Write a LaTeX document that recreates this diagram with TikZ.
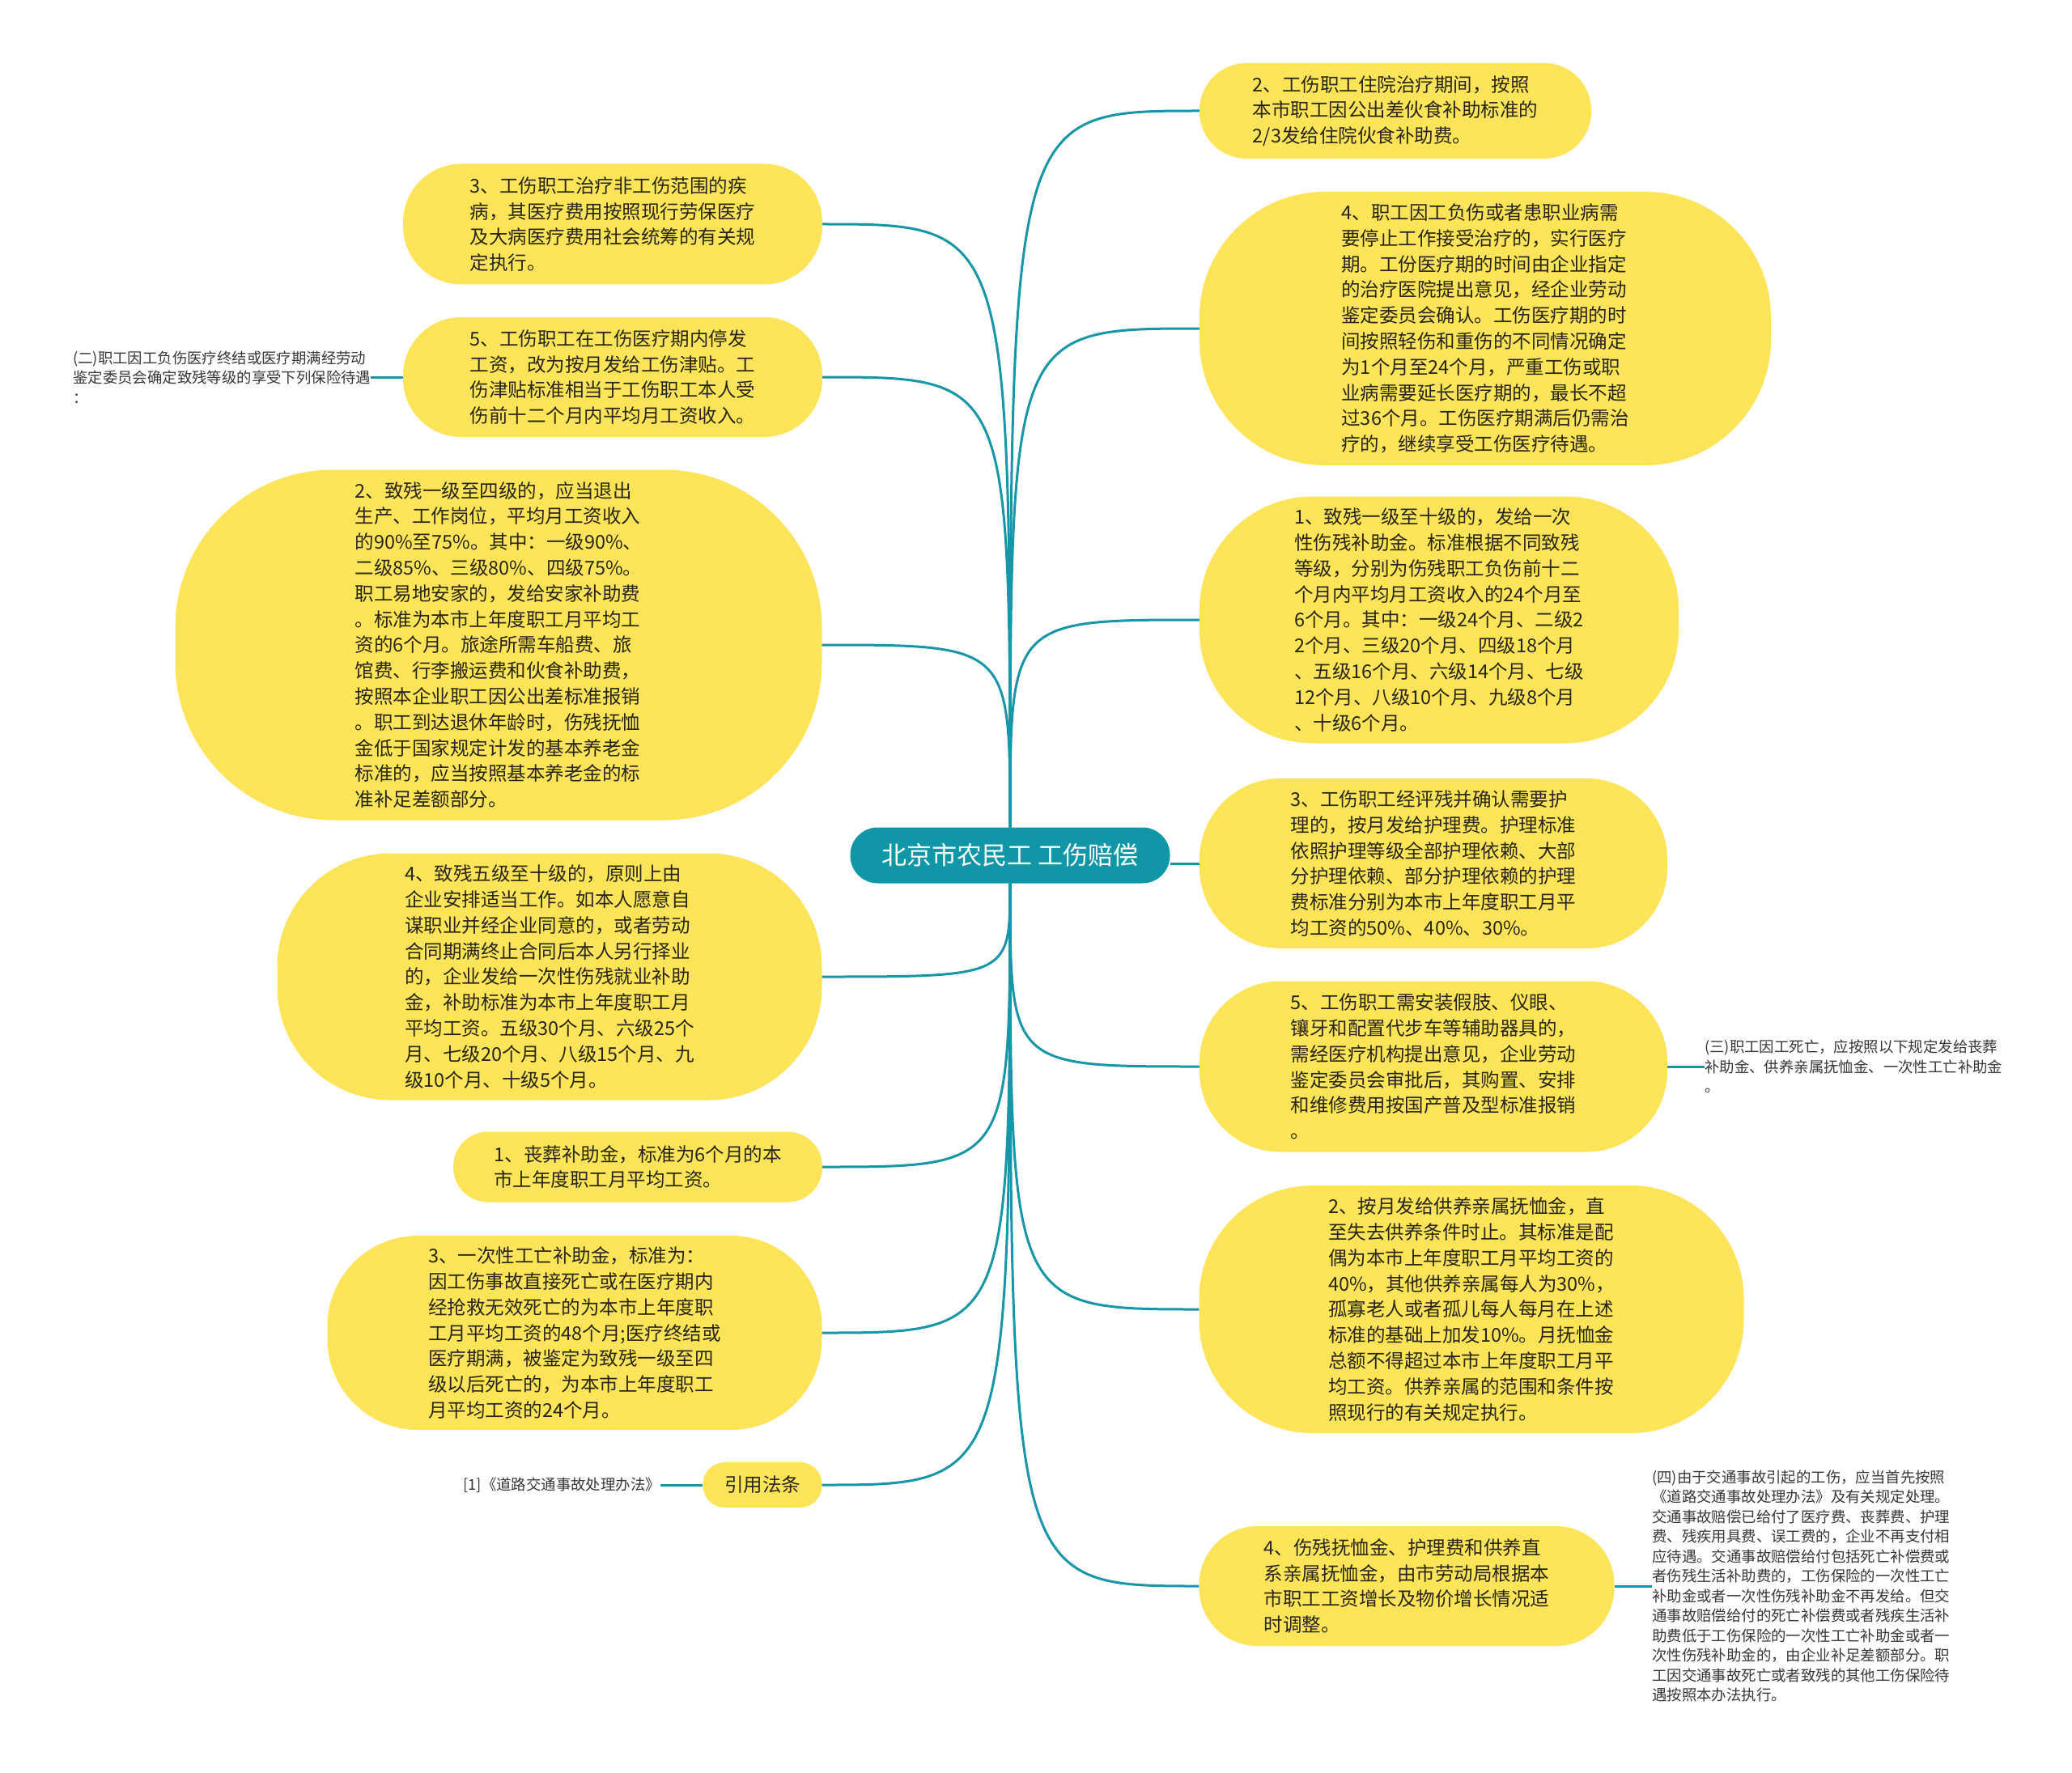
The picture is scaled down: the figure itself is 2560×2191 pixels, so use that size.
\documentclass[tikz,border=0pt]{standalone}
\usepackage{fontspec}
\setmainfont{Noto Sans CJK SC}

\definecolor{leafyellow}{RGB}{253,228,88}
\definecolor{rootteal}{RGB}{16,151,167}
\definecolor{linkteal}{RGB}{22,150,166}
\definecolor{leaftext}{RGB}{40,38,25}
\definecolor{notegray}{RGB}{55,55,55}

\begin{document}
\begin{tikzpicture}[x=1pt, y=-1pt,
    root/.style={fill=rootteal, text=white, rounded corners=34pt, minimum width=395pt, minimum height=69pt, inner sep=0pt, font=\fontsize{31}{36}\selectfont},
    leaf/.style={fill=leafyellow, text=leaftext, align=left, inner sep=0pt, font=\fontsize{23.5}{31.8}\selectfont},
    note/.style={text=notegray, align=left, inner sep=0pt, font=\fontsize{18.4}{24.5}\selectfont},
    link/.style={draw=linkteal, line width=3pt}]

    \fill[white] (0,0) rectangle (2560,2191);

    % centre
    \node[root] (root) at (1248,1057) {北京市农民工 工伤赔偿};

    % right side
    \node[leaf, minimum width=484pt, minimum height=118pt, rounded corners=58pt] (r1) at (1724,137)
        {2、工伤职工住院治疗期间，按照\\本市职工因公出差伙食补助标准的\\2/3发给住院伙食补助费。};
    \node[leaf, minimum width=706pt, minimum height=338pt, rounded corners=155pt] (r2) at (1835,406)
        {4、职工因工负伤或者患职业病需\\要停止工作接受治疗的，实行医疗\\期。工份医疗期的时间由企业指定\\的治疗医院提出意见，经企业劳动\\鉴定委员会确认。工伤医疗期的时\\间按照轻伤和重伤的不同情况确定\\为1个月至24个月，严重工伤或职\\业病需要延长医疗期的，最长不超\\过36个月。工伤医疗期满后仍需治\\疗的，继续享受工伤医疗待遇。};
    \node[leaf, minimum width=592pt, minimum height=305pt, rounded corners=140pt] (r3) at (1778,766)
        {1、致残一级至十级的，发给一次\\性伤残补助金。标准根据不同致残\\等级，分别为伤残职工负伤前十二\\个月内平均月工资收入的24个月至\\6个月。其中：一级24个月、二级2\\2个月、三级20个月、四级18个月\\、五级16个月、六级14个月、七级\\12个月、八级10个月、九级8个月\\、十级6个月。};
    \node[leaf, minimum width=578pt, minimum height=210pt, rounded corners=100pt] (r4) at (1771,1067)
        {3、工伤职工经评残并确认需要护\\理的，按月发给护理费。护理标准\\依照护理等级全部护理依赖、大部\\分护理依赖、部分护理依赖的护理\\费标准分别为本市上年度职工月平\\均工资的50\%、40\%、30\%。};
    \node[leaf, minimum width=578pt, minimum height=211pt, rounded corners=100pt] (r5) at (1771,1318)
        {5、工伤职工需安装假肢、仪眼、\\镶牙和配置代步车等辅助器具的，\\需经医疗机构提出意见，企业劳动\\鉴定委员会审批后，其购置、安排\\和维修费用按国产普及型标准报销\\。};
    \node[leaf, minimum width=673pt, minimum height=306pt, rounded corners=140pt] (r6) at (1818,1618)
        {2、按月发给供养亲属抚恤金，直\\至失去供养条件时止。其标准是配\\偶为本市上年度职工月平均工资的\\40\%，其他供养亲属每人为30\%，\\孤寡老人或者孤儿每人每月在上述\\标准的基础上加发10\%。月抚恤金\\总额不得超过本市上年度职工月平\\均工资。供养亲属的范围和条件按\\照现行的有关规定执行。};
    \node[leaf, minimum width=513pt, minimum height=148pt, rounded corners=72pt] (r7) at (1738,1960)
        {4、伤残抚恤金、护理费和供养直\\系亲属抚恤金，由市劳动局根据本\\市职工工资增长及物价增长情况适\\时调整。};

    % left side
    \node[leaf, minimum width=518pt, minimum height=149pt, rounded corners=72pt] (l1) at (757,277)
        {3、工伤职工治疗非工伤范围的疾\\病，其医疗费用按照现行劳保医疗\\及大病医疗费用社会统筹的有关规\\定执行。};
    \node[leaf, minimum width=518pt, minimum height=148pt, rounded corners=72pt] (l2) at (757,466)
        {5、工伤职工在工伤医疗期内停发\\工资，改为按月发给工伤津贴。工\\伤津贴标准相当于工伤职工本人受\\伤前十二个月内平均月工资收入。};
    \node[leaf, minimum width=799pt, minimum height=433pt, rounded corners=195pt] (l3) at (616,797)
        {2、致残一级至四级的，应当退出\\生产、工作岗位，平均月工资收入\\的90\%至75\%。其中：一级90\%、\\二级85\%、三级80\%、四级75\%。\\职工易地安家的，发给安家补助费\\。标准为本市上年度职工月平均工\\资的6个月。旅途所需车船费、旅\\馆费、行李搬运费和伙食补助费，\\按照本企业职工因公出差标准报销\\。职工到达退休年龄时，伤残抚恤\\金低于国家规定计发的基本养老金\\标准的，应当按照基本养老金的标\\准补足差额部分。};
    \node[leaf, minimum width=673pt, minimum height=305pt, rounded corners=140pt] (l4) at (679,1207)
        {4、致残五级至十级的，原则上由\\企业安排适当工作。如本人愿意自\\谋职业并经企业同意的，或者劳动\\合同期满终止合同后本人另行择业\\的，企业发给一次性伤残就业补助\\金，补助标准为本市上年度职工月\\平均工资。五级30个月、六级25个\\月、七级20个月、八级15个月、九\\级10个月、十级5个月。};
    \node[leaf, minimum width=456pt, minimum height=87pt, rounded corners=43pt] (l5) at (788,1442)
        {1、丧葬补助金，标准为6个月的本\\市上年度职工月平均工资。};
    \node[leaf, minimum width=611pt, minimum height=240pt, rounded corners=112pt] (l6) at (710,1647)
        {3、一次性工亡补助金，标准为：\\因工伤事故直接死亡或在医疗期内\\经抢救无效死亡的为本市上年度职\\工月平均工资的48个月;医疗终结或\\医疗期满，被鉴定为致残一级至四\\级以后死亡的，为本市上年度职工\\月平均工资的24个月。};
    \node[leaf, minimum width=147pt, minimum height=56pt, rounded corners=27pt] (l7) at (942,1835) {引用法条};

    % notes
    \node[note, anchor=west] (n2) at (90,466)
        {(二)职工因工负伤医疗终结或医疗期满经劳动\\鉴定委员会确定致残等级的享受下列保险待遇\\：};
    \node[note, anchor=west] (n3) at (2106,1318)
        {(三)职工因工死亡，应按照以下规定发给丧葬\\补助金、供养亲属抚恤金、一次性工亡补助金\\。};
    \node[note, anchor=west] (n4) at (2041,1960)
        {(四)由于交通事故引起的工伤，应当首先按照\\《道路交通事故处理办法》及有关规定处理。\\交通事故赔偿已给付了医疗费、丧葬费、护理\\费、残疾用具费、误工费的，企业不再支付相\\应待遇。交通事故赔偿给付包括死亡补偿费或\\者伤残生活补助费的，工伤保险的一次性工亡\\补助金或者一次性伤残补助金不再发给。但交\\通事故赔偿给付的死亡补偿费或者残疾生活补\\助费低于工伤保险的一次性工亡补助金或者一\\次性伤残补助金的，由企业补足差额部分。职\\工因交通事故死亡或者致残的其他工伤保险待\\遇按照本办法执行。};
    \node[note, anchor=east] (ref1) at (816,1835) {[1]《道路交通事故处理办法》};

    % links
    \foreach \n in {r1,r2,r3} \draw[link] (root.north) .. controls (root.north |- \n.west) .. (\n.west);
    \foreach \n in {l1,l2,l3} \draw[link] (root.north) .. controls (root.north |- \n.east) .. (\n.east);
    \foreach \n in {r5,r6,r7} \draw[link] (root.south) .. controls (root.south |- \n.west) .. (\n.west);
    \foreach \n in {l4,l5,l6,l7} \draw[link] (root.south) .. controls (root.south |- \n.east) .. (\n.east);
    \draw[link] (root.east |- r4.west) -- (r4.west);

    \draw[link] (n2.east) -- (l2.west);
    \draw[link] (r5.east) -- (n3.west);
    \draw[link] (r7.east) -- (n4.west);
    \draw[link] (ref1.east) -- (l7.west);
\end{tikzpicture}
\end{document}
